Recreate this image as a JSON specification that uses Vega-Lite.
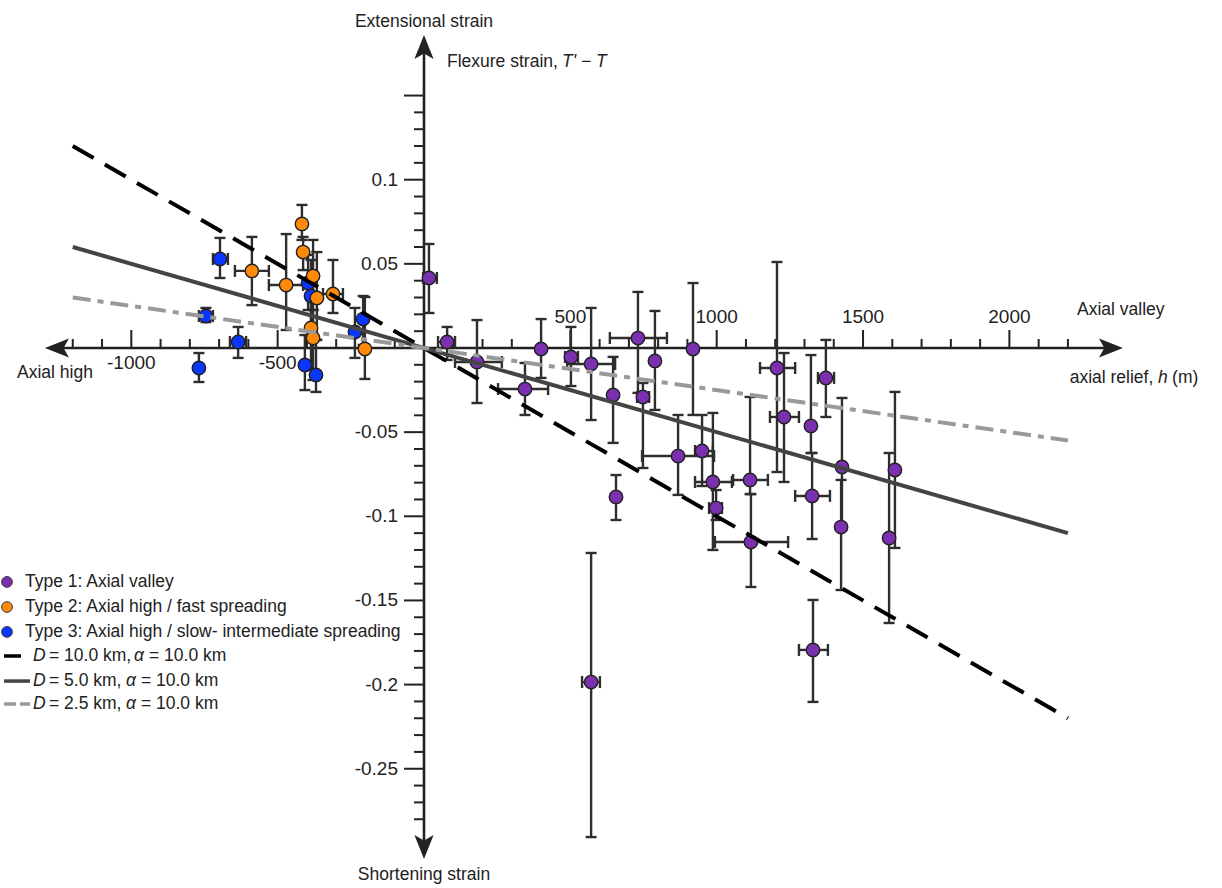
{
"$schema":"https://vega.github.io/schema/vega-lite/v6.json",
"width":1222,"height":888,"autosize":{"type":"none"},"padding":0,"background":"white",
"config":{"view":{"stroke":null},"font":"Liberation Sans"},
"datasets":{
"pts":[
{"t":1,"h":17,"v":0.0416,"hlo":-3,"hhi":44,"vlo":0.0208,"vhi":0.0618},
{"t":1,"h":79,"v":0.0036,"hlo":48,"hhi":106,"vlo":-0.0071,"vhi":0.0125},
{"t":1,"h":181,"v":-0.0083,"hlo":106,"hhi":266,"vlo":-0.0327,"vhi":0.0166},
{"t":1,"h":345,"v":-0.0244,"hlo":253,"hhi":424,"vlo":-0.0398,"vhi":-0.0089},
{"t":1,"h":400,"v":-0.0006,"vlo":-0.0178,"vhi":0.0172},
{"t":1,"h":502,"v":-0.0053,"hlo":482,"hhi":526,"vlo":-0.0226,"vhi":0.0125},
{"t":1,"h":571,"v":-0.0095,"hlo":489,"hhi":653,"vlo":-0.0428,"vhi":0.0238},
{"t":1,"h":646,"v":-0.0279,"vlo":-0.0564,"vhi":-0.0053},
{"t":1,"h":731,"v":0.0059,"hlo":635,"hhi":830,"vlo":-0.0267,"vhi":0.0333},
{"t":1,"h":748,"v":-0.0291,"hlo":728,"hhi":769,"vlo":-0.0713,"vhi":-0.0208},
{"t":1,"h":789,"v":-0.0077,"vlo":-0.0368,"vhi":0.022},
{"t":1,"h":656,"v":-0.0885,"vlo":-0.1022,"vhi":-0.0755},
{"t":1,"h":919,"v":-0.0006,"vlo":-0.0398,"vhi":0.0386},
{"t":1,"h":868,"v":-0.0642,"hlo":745,"hhi":991,"vlo":-0.0873,"vhi":-0.0398},
{"t":1,"h":950,"v":-0.0612,"hlo":926,"hhi":987,"vlo":-0.082,"vhi":-0.0398},
{"t":1,"h":987,"v":-0.0796,"hlo":926,"hhi":1052,"vlo":-0.12,"vhi":-0.0386},
{"t":1,"h":998,"v":-0.0951,"hlo":974,"hhi":1018,"vlo":-0.1022,"vhi":-0.0844},
{"t":1,"h":1114,"v":-0.0784,"hlo":1056,"hhi":1175,"vlo":-0.0868,"vhi":-0.0291},
{"t":1,"h":1117,"v":-0.1153,"hlo":994,"hhi":1244,"vlo":-0.142,"vhi":-0.0868},
{"t":1,"h":1206,"v":-0.0119,"hlo":1148,"hhi":1268,"vlo":-0.0737,"vhi":0.0511},
{"t":1,"h":1230,"v":-0.041,"hlo":1182,"hhi":1281,"vlo":-0.0796,"vhi":-0.003},
{"t":1,"h":1322,"v":-0.0463,"vlo":-0.0624,"vhi":-0.0042},
{"t":1,"h":1326,"v":-0.0879,"hlo":1268,"hhi":1387,"vlo":-0.1135,"vhi":-0.0624},
{"t":1,"h":1373,"v":-0.0178,"hlo":1346,"hhi":1401,"vlo":-0.041,"vhi":0.0048},
{"t":1,"h":1428,"v":-0.0707,"vlo":-0.1081,"vhi":-0.0297},
{"t":1,"h":1425,"v":-0.1064,"vlo":-0.1438,"vhi":-0.0784},
{"t":1,"h":1609,"v":-0.0725,"vlo":-0.1188,"vhi":-0.0261},
{"t":1,"h":1589,"v":-0.1129,"vlo":-0.1634,"vhi":-0.0624},
{"t":1,"h":571,"v":-0.1985,"hlo":540,"hhi":601,"vlo":-0.2906,"vhi":-0.1218},
{"t":1,"h":1329,"v":-0.1794,"hlo":1281,"hhi":1380,"vlo":-0.2103,"vhi":-0.1497},
{"t":3,"h":-697,"v":0.0529,"hlo":-721,"hhi":-670,"vlo":0.0416,"vhi":0.0654},
{"t":3,"h":-745,"v":0.019,"hlo":-769,"hhi":-721,"vlo":0.0154,"vhi":0.0238},
{"t":3,"h":-635,"v":0.0036,"hlo":-663,"hhi":-608,"vlo":-0.0059,"vhi":0.0125},
{"t":3,"h":-769,"v":-0.0119,"vlo":-0.0202,"vhi":-0.003},
{"t":3,"h":-407,"v":-0.0101,"vlo":-0.025,"vhi":0.0077},
{"t":3,"h":-369,"v":-0.016,"vlo":-0.0261,"vhi":0.0048},
{"t":3,"h":-208,"v":0.0172,"vlo":0.0018,"vhi":0.0309},
{"t":3,"h":-236,"v":0.0095,"vlo":-0.0059,"vhi":0.0238},
{"t":3,"h":-396,"v":0.0386,"vlo":0.0226,"vhi":0.0553},
{"t":3,"h":-386,"v":0.0309,"vlo":0.0107,"vhi":0.0523},
{"t":2,"h":-417,"v":0.0737,"vlo":0.0642,"vhi":0.085},
{"t":2,"h":-413,"v":0.057,"vlo":0.0463,"vhi":0.066},
{"t":2,"h":-588,"v":0.0458,"hlo":-646,"hhi":-530,"vlo":0.0255,"vhi":0.066},
{"t":2,"h":-471,"v":0.0374,"hlo":-530,"hhi":-413,"vlo":0.0107,"vhi":0.0677},
{"t":2,"h":-379,"v":0.0428,"vlo":0.0226,"vhi":0.0642},
{"t":2,"h":-366,"v":0.0297,"vlo":0.0048,"vhi":0.057},
{"t":2,"h":-311,"v":0.0321,"hlo":-345,"hhi":-277,"vlo":0.0208,"vhi":0.0523},
{"t":2,"h":-386,"v":0.0119,"vlo":-0.0131,"vhi":0.0285},
{"t":2,"h":-379,"v":0.0059,"vlo":-0.019,"vhi":0.0226},
{"t":2,"h":-202,"v":-0.0006,"vlo":-0.0184,"vhi":0.0303}
],
"xaxis":[{"h":-1254,"h2":2347,"v":0}],
"yaxis":[{"h":0,"v":0.1789,"v2":-0.2965}],
"arrows":[{"h":-1254,"v":0,"d":"l"},{"h":2347,"v":0,"d":"r"},{"h":0,"v":0.1789,"d":"u"},{"h":0,"v":-0.2965,"d":"d"}],
"xt":[
{"h":-1200,"v":0,"m":0},{"h":-1100,"v":0,"m":0},{"h":-1000,"v":0,"m":1},{"h":-900,"v":0,"m":0},{"h":-800,"v":0,"m":0},{"h":-700,"v":0,"m":0},{"h":-600,"v":0,"m":0},{"h":-500,"v":0,"m":1},{"h":-400,"v":0,"m":0},{"h":-300,"v":0,"m":0},{"h":-200,"v":0,"m":0},{"h":-100,"v":0,"m":0},
{"h":100,"v":0,"m":0},{"h":200,"v":0,"m":0},{"h":300,"v":0,"m":0},{"h":400,"v":0,"m":0},{"h":500,"v":0,"m":1},{"h":600,"v":0,"m":0},{"h":700,"v":0,"m":0},{"h":800,"v":0,"m":0},{"h":900,"v":0,"m":0},{"h":1000,"v":0,"m":1},
{"h":1100,"v":0,"m":0},{"h":1200,"v":0,"m":0},{"h":1300,"v":0,"m":0},{"h":1400,"v":0,"m":0},{"h":1500,"v":0,"m":1},{"h":1600,"v":0,"m":0},{"h":1700,"v":0,"m":0},{"h":1800,"v":0,"m":0},{"h":1900,"v":0,"m":0},{"h":2000,"v":0,"m":1},{"h":2100,"v":0,"m":0},{"h":2200,"v":0,"m":0}
],
"yt":[
{"h":0,"v":0.15,"m":1},{"h":0,"v":0.14,"m":0},{"h":0,"v":0.13,"m":0},{"h":0,"v":0.12,"m":0},{"h":0,"v":0.11,"m":0},{"h":0,"v":0.1,"m":1},{"h":0,"v":0.09,"m":0},{"h":0,"v":0.08,"m":0},{"h":0,"v":0.07,"m":0},{"h":0,"v":0.06,"m":0},{"h":0,"v":0.05,"m":1},{"h":0,"v":0.04,"m":0},{"h":0,"v":0.03,"m":0},{"h":0,"v":0.02,"m":0},{"h":0,"v":0.01,"m":0},
{"h":0,"v":-0.01,"m":0},{"h":0,"v":-0.02,"m":0},{"h":0,"v":-0.03,"m":0},{"h":0,"v":-0.04,"m":0},{"h":0,"v":-0.05,"m":1},{"h":0,"v":-0.06,"m":0},{"h":0,"v":-0.07,"m":0},{"h":0,"v":-0.08,"m":0},{"h":0,"v":-0.09,"m":0},{"h":0,"v":-0.1,"m":1},
{"h":0,"v":-0.11,"m":0},{"h":0,"v":-0.12,"m":0},{"h":0,"v":-0.13,"m":0},{"h":0,"v":-0.14,"m":0},{"h":0,"v":-0.15,"m":1},{"h":0,"v":-0.16,"m":0},{"h":0,"v":-0.17,"m":0},{"h":0,"v":-0.18,"m":0},{"h":0,"v":-0.19,"m":0},{"h":0,"v":-0.2,"m":1},
{"h":0,"v":-0.21,"m":0},{"h":0,"v":-0.22,"m":0},{"h":0,"v":-0.23,"m":0},{"h":0,"v":-0.24,"m":0},{"h":0,"v":-0.25,"m":1},{"h":0,"v":-0.26,"m":0},{"h":0,"v":-0.27,"m":0},{"h":0,"v":-0.28,"m":0}
],
"xl":[
{"h":-1000,"v":0,"s":"-1000","p":"b"},{"h":-500,"v":0,"s":"-500","p":"b"},
{"h":500,"v":0,"s":"500","p":"a"},{"h":1000,"v":0,"s":"1000","p":"a"},{"h":1500,"v":0,"s":"1500","p":"a"},{"h":2000,"v":0,"s":"2000","p":"a"}
],
"yl":[
{"h":0,"v":0.1,"s":"0.1"},{"h":0,"v":0.05,"s":"0.05"},{"h":0,"v":-0.05,"s":"-0.05"},{"h":0,"v":-0.1,"s":"-0.1"},{"h":0,"v":-0.15,"s":"-0.15"},{"h":0,"v":-0.2,"s":"-0.2"},{"h":0,"v":-0.25,"s":"-0.25"}
],
"fits":[
{"m":"D10","h":-1200,"v":0.12},{"m":"D10","h":2200,"v":-0.22},
{"m":"D5","h":-1200,"v":0.06},{"m":"D5","h":2200,"v":-0.11},
{"m":"D25","h":-1200,"v":0.03},{"m":"D25","h":2200,"v":-0.055}
],
"legdot":[
{"t":1,"h":-1424.7,"v":-0.139},{"t":2,"h":-1424.7,"v":-0.1539},{"t":3,"h":-1424.7,"v":-0.1687}
],
"legline":[
{"m":"D10","h":-1434.9,"v":-0.183},{"m":"D10","h":-1376.8,"v":-0.183},
{"m":"D5","h":-1434.9,"v":-0.1979},{"m":"D5","h":-1346.1,"v":-0.1979},
{"m":"D25","h":-1434.9,"v":-0.2115},{"m":"D25","h":-1346.1,"v":-0.2115}
],
"ann":[
{"k":"c","h":0,"v":0.1937,"s":"Extensional strain"},
{"k":"c","h":0,"v":-0.3131,"s":"Shortening strain"},
{"k":"l","h":78.6,"v":0.1699,"s":"Flexure strain,"},
{"k":"i","h":471.5,"v":0.1699,"s":"T' − T"},
{"k":"l","h":2231,"v":0.0226,"s":"Axial valley"},
{"k":"l","h":2206,"v":-0.0178,"s":"axial relief,"},
{"k":"i","h":2508,"v":-0.0178,"s":"h"},
{"k":"l","h":2556,"v":-0.0178,"s":"(m)"},
{"k":"l","h":-1390.5,"v":-0.0149,"s":"Axial high"},
{"k":"l","h":-1363.2,"v":-0.139,"s":"Type 1: Axial valley"},
{"k":"l","h":-1363.2,"v":-0.1539,"s":"Type 2: Axial high / fast spreading"},
{"k":"l","h":-1363.2,"v":-0.1687,"s":"Type 3: Axial high / slow- intermediate spreading"},
{"k":"i","h":-1335.8,"v":-0.183,"s":"D"},
{"k":"l","h":-1281.2,"v":-0.183,"s":"= 10.0 km,"},
{"k":"i","h":-990.8,"v":-0.183,"s":"α"},
{"k":"l","h":-939.5,"v":-0.183,"s":"= 10.0 km"},
{"k":"i","h":-1335.8,"v":-0.1979,"s":"D"},
{"k":"l","h":-1281.2,"v":-0.1979,"s":"= 5.0 km,"},
{"k":"i","h":-1018,"v":-0.1979,"s":"α"},
{"k":"l","h":-967,"v":-0.1979,"s":"= 10.0 km"},
{"k":"i","h":-1335.8,"v":-0.2115,"s":"D"},
{"k":"l","h":-1281.2,"v":-0.2115,"s":"= 2.5 km,"},
{"k":"i","h":-1018,"v":-0.2115,"s":"α"},
{"k":"l","h":-967,"v":-0.2115,"s":"= 10.0 km"}
]
},
"encoding":{
"x":{"field":"h","type":"quantitative","scale":{"domain":[-1448.6,2726.4],"nice":false,"zero":false},"axis":null},
"y":{"field":"v","type":"quantitative","scale":{"domain":[-0.32086,0.20677],"nice":false,"zero":false},"axis":null}
},
"layer":[
{"data":{"name":"xaxis"},"mark":{"type":"rule","color":"#222","strokeWidth":2.6},"encoding":{"x2":{"field":"h2"}}},
{"data":{"name":"yaxis"},"mark":{"type":"rule","color":"#222","strokeWidth":2.6},"encoding":{"y2":{"field":"v2"}}},
{"data":{"name":"xt"},"transform":[{"filter":"datum.m == 0"}],"mark":{"type":"tick","orient":"vertical","size":9,"thickness":2,"yOffset":-4.5,"color":"#222","opacity":1}},
{"data":{"name":"xt"},"transform":[{"filter":"datum.m == 1"}],"mark":{"type":"tick","orient":"vertical","size":18,"thickness":2,"yOffset":-9,"color":"#222","opacity":1}},
{"data":{"name":"yt"},"transform":[{"filter":"datum.m == 0"}],"mark":{"type":"tick","orient":"horizontal","size":10,"thickness":2,"xOffset":-5,"color":"#222","opacity":1}},
{"data":{"name":"yt"},"transform":[{"filter":"datum.m == 1"}],"mark":{"type":"tick","orient":"horizontal","size":20,"thickness":2,"xOffset":-10,"color":"#222","opacity":1}},
{"data":{"name":"arrows"},"mark":{"type":"point","filled":true,"size":576,"color":"#222","opacity":1,"strokeWidth":0},
 "encoding":{"shape":{"field":"d","type":"nominal","scale":{"domain":["l","r","u","d"],"range":["M-1,0L1,-0.8L0.55,0L1,0.8Z","M1,0L-1,-0.8L-0.55,0L-1,0.8Z","M0,-1L-0.8,1L0,0.55L0.8,1Z","M0,1L-0.8,-1L0,-0.55L0.8,-1Z"]},"legend":null}}},
{"data":{"name":"xl"},"transform":[{"filter":"datum.p == 'a'"}],"mark":{"type":"text","fontSize":19,"align":"center","baseline":"middle","dy":-31,"color":"#222"},"encoding":{"text":{"field":"s"}}},
{"data":{"name":"xl"},"transform":[{"filter":"datum.p == 'b'"}],"mark":{"type":"text","fontSize":19,"align":"center","baseline":"middle","dy":15,"color":"#222"},"encoding":{"text":{"field":"s"}}},
{"data":{"name":"yl"},"mark":{"type":"text","fontSize":19,"align":"right","baseline":"middle","dx":-26,"color":"#222"},"encoding":{"text":{"field":"s"}}},
{"data":{"name":"pts"},"mark":{"type":"rule","color":"#2e2e2e","strokeWidth":2.4},
 "encoding":{"y":{"field":"vlo","type":"quantitative","scale":{"domain":[-0.32086,0.20677],"nice":false,"zero":false},"axis":null},"y2":{"field":"vhi"}}},
{"data":{"name":"pts"},"mark":{"type":"tick","orient":"horizontal","size":11,"thickness":2.4,"color":"#2e2e2e","opacity":1},
 "encoding":{"y":{"field":"vlo","type":"quantitative","scale":{"domain":[-0.32086,0.20677],"nice":false,"zero":false},"axis":null}}},
{"data":{"name":"pts"},"mark":{"type":"tick","orient":"horizontal","size":11,"thickness":2.4,"color":"#2e2e2e","opacity":1},
 "encoding":{"y":{"field":"vhi","type":"quantitative","scale":{"domain":[-0.32086,0.20677],"nice":false,"zero":false},"axis":null}}},
{"data":{"name":"pts"},"transform":[{"filter":"isValid(datum.hlo)"}],"mark":{"type":"rule","color":"#2e2e2e","strokeWidth":2.4},
 "encoding":{"x":{"field":"hlo","type":"quantitative","scale":{"domain":[-1448.6,2726.4],"nice":false,"zero":false},"axis":null},"x2":{"field":"hhi"}}},
{"data":{"name":"pts"},"transform":[{"filter":"isValid(datum.hlo)"}],"mark":{"type":"tick","orient":"vertical","size":12,"thickness":2.4,"color":"#2e2e2e","opacity":1},
 "encoding":{"x":{"field":"hlo","type":"quantitative","scale":{"domain":[-1448.6,2726.4],"nice":false,"zero":false},"axis":null}}},
{"data":{"name":"pts"},"transform":[{"filter":"isValid(datum.hlo)"}],"mark":{"type":"tick","orient":"vertical","size":12,"thickness":2.4,"color":"#2e2e2e","opacity":1},
 "encoding":{"x":{"field":"hhi","type":"quantitative","scale":{"domain":[-1448.6,2726.4],"nice":false,"zero":false},"axis":null}}},
{"data":{"name":"pts"},"mark":{"type":"circle","size":180,"stroke":"#222","strokeWidth":1.4,"opacity":1},
 "encoding":{"fill":{"field":"t","type":"nominal","scale":{"domain":[1,2,3],"range":["#7b30b0","#ff8a0a","#0a36ff"]},"legend":null}}},
{"data":{"name":"fits"},"transform":[{"filter":"datum.m == 'D10'"}],"mark":{"type":"line","color":"#000","strokeWidth":4,"strokeDash":[24,13]},"encoding":{}},
{"data":{"name":"fits"},"transform":[{"filter":"datum.m == 'D5'"}],"mark":{"type":"line","color":"#444","strokeWidth":4},"encoding":{}},
{"data":{"name":"fits"},"transform":[{"filter":"datum.m == 'D25'"}],"mark":{"type":"line","color":"#999","strokeWidth":4,"strokeDash":[18,7,6,7]},"encoding":{}},
{"data":{"name":"legdot"},"mark":{"type":"circle","size":115,"stroke":"#333","strokeWidth":1,"opacity":1},
 "encoding":{"fill":{"field":"t","type":"nominal","scale":{"domain":[1,2,3],"range":["#70308f","#f5821f","#2e54a4"]},"legend":null}}},
{"data":{"name":"legline"},"transform":[{"filter":"datum.m == 'D10'"}],"mark":{"type":"line","color":"#000","strokeWidth":3.5},"encoding":{}},
{"data":{"name":"legline"},"transform":[{"filter":"datum.m == 'D5'"}],"mark":{"type":"line","color":"#444","strokeWidth":3.5},"encoding":{}},
{"data":{"name":"legline"},"transform":[{"filter":"datum.m == 'D25'"}],"mark":{"type":"line","color":"#999","strokeWidth":3.5,"strokeDash":[12,4]},"encoding":{}},
{"data":{"name":"ann"},"transform":[{"filter":"datum.k == 'c'"}],"mark":{"type":"text","fontSize":17.5,"align":"center","baseline":"middle","color":"#222"},"encoding":{"text":{"field":"s"}}},
{"data":{"name":"ann"},"transform":[{"filter":"datum.k == 'l'"}],"mark":{"type":"text","fontSize":17.5,"align":"left","baseline":"middle","color":"#222"},"encoding":{"text":{"field":"s"}}},
{"data":{"name":"ann"},"transform":[{"filter":"datum.k == 'i'"}],"mark":{"type":"text","fontSize":17.5,"fontStyle":"italic","align":"left","baseline":"middle","color":"#222"},"encoding":{"text":{"field":"s"}}}
]
}
